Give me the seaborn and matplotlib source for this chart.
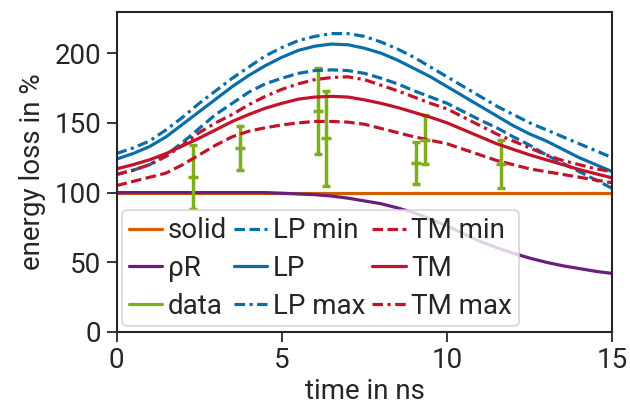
import numpy as np
import pandas as pd
import matplotlib
matplotlib.use("Agg")
import matplotlib.pyplot as plt
import seaborn as sns

# time grid (ns) and curves
t = [0, 0.5, 1, 1.5, 2, 2.5, 3, 3.5, 4, 4.5, 5, 5.5, 6, 6.5, 7, 7.5,
     8, 8.5, 9, 9.5, 10, 10.5, 11, 11.5, 12, 12.5, 13, 13.5, 14, 14.5, 15]
solid = [100] * 31
rho_r = [100, 100, 100, 100, 100, 100, 100, 100, 100, 100, 99.5, 99, 98.5, 97.5, 96, 94,
         92, 89, 85.5, 81, 76, 70.5, 65, 60.5, 56.5, 53, 50, 47.5, 45.5, 43.5, 42]
lp_min = [113, 116, 120, 127, 136, 146, 156, 164, 172, 178, 182, 185.5, 187.5, 188, 187.5, 185.5,
          182, 178, 173, 168.5, 164, 158, 152, 146.5, 140, 134, 127, 121, 115, 109, 103]
lp = [124, 128, 133, 140, 149, 158, 167, 176, 184, 191, 197, 202, 205, 206.5, 206, 203.5,
      200, 195, 189, 183, 176, 169, 162, 155, 148, 142, 137, 131, 125, 120, 115]
lp_max = [128, 132, 137, 145, 154, 164, 173, 182, 190, 198, 204, 209, 212, 214, 214, 212,
          208, 203, 197, 190, 183, 176, 169, 162, 156, 150, 145, 140, 135, 130, 125]
tm_min = [105, 108, 111, 114, 120, 127, 134, 140, 144, 146.5, 148.5, 150, 151, 151, 150.5, 149,
          146, 143, 140, 137.5, 135, 131, 127, 123, 120, 117, 115, 113, 111, 109, 107]
tm = [117, 120, 123.5, 128, 133.5, 139, 145, 151, 156, 160.5, 164, 167, 168.5, 169, 168.5, 166.5,
      164, 161, 157.5, 154, 150, 145, 140, 135, 131, 127, 123.5, 120, 116.5, 113.5, 110.5]
tm_max = [113, 116, 120, 126, 134, 143, 150, 156, 163, 169, 174, 178, 181, 182.5, 183, 181,
          177, 173, 168.5, 164, 160, 154, 148, 142, 137, 132, 127, 123, 120, 117, 115]

# measured data with error bars
data_t = [2.32, 3.73, 6.10, 6.35, 9.06, 9.32, 11.64]
data_v = [111, 132, 158.5, 139, 121, 138, 120.5]
data_err = [23, 16, 31, 34, 15, 17.5, 17]

orange = "#d55e00"
purple = "#6a1f7d"
green = "#7fae1b"
blue = "#0b6ea8"
red = "#c0142b"

sns.set_style("ticks")
plt.rcParams["font.family"] = ["Roboto", "DejaVu Sans"]

fig = plt.figure(figsize=(6.3, 4.0), dpi=100)
ax = fig.add_axes([0.185, 0.17, 0.787, 0.80])

lw = 2.3
dash = (3.3, 1.4)
dashdot = (3.3, 1.4, 1.0, 1.4)

df = pd.DataFrame({"t": t, "solid": solid, "rho": rho_r, "lp_min": lp_min, "lp": lp,
                   "lp_max": lp_max, "tm_min": tm_min, "tm": tm, "tm_max": tm_max})

sns.lineplot(data=df, x="t", y="solid", ax=ax, color=orange, lw=lw, label="solid")
sns.lineplot(data=df, x="t", y="rho", ax=ax, color=purple, lw=lw, label="ρR")
ax.errorbar(data_t, data_v, yerr=data_err, fmt="_", color=green, lw=2.5,
            ms=7, mew=2.5, capsize=3, capthick=2.5, label="data")
sns.lineplot(data=df, x="t", y="lp_min", ax=ax, color=blue, lw=lw, label="LP min").lines[-1].set_dashes(dash)
sns.lineplot(data=df, x="t", y="lp", ax=ax, color=blue, lw=lw, label="LP")
sns.lineplot(data=df, x="t", y="lp_max", ax=ax, color=blue, lw=lw, label="LP max").lines[-1].set_dashes(dashdot)
sns.lineplot(data=df, x="t", y="tm_min", ax=ax, color=red, lw=lw, label="TM min").lines[-1].set_dashes(dash)
sns.lineplot(data=df, x="t", y="tm", ax=ax, color=red, lw=lw, label="TM")
sns.lineplot(data=df, x="t", y="tm_max", ax=ax, color=red, lw=lw, label="TM max").lines[-1].set_dashes(dashdot)

ax.set_xlim(0, 15)
ax.set_ylim(0, 229.5)
ax.set_xticks([0, 5, 10, 15])
ax.set_yticks([0, 50, 100, 150, 200])
ax.tick_params(labelsize=20, length=7, width=1.3, direction="out", pad=4)
for s in ax.spines.values():
    s.set_linewidth(1.5)
ax.set_xlabel("time in ns", fontsize=20, labelpad=3)
ax.set_ylabel("energy loss in %", fontsize=20, labelpad=6)

handles, labels = ax.get_legend_handles_labels()
order = ["solid", "ρR", "data", "LP min", "LP", "LP max", "TM min", "TM", "TM max"]
hmap = dict(zip(labels, handles))
hs = []
for lab in order:
    h = hmap[lab]
    if lab == "data":
        h = plt.Line2D([], [], color=green, lw=lw)
    hs.append(h)
leg = ax.legend(hs, order, ncol=3, loc="lower left", fontsize=20, handlelength=1.2,
                handletextpad=0.2, columnspacing=0.25, labelspacing=0.38,
                borderpad=0.25, borderaxespad=0.2, framealpha=0.8, edgecolor="#d0d0d0",
                fancybox=True)
leg.get_frame().set_linewidth(1.3)

fig.savefig("out.png", dpi=100)
